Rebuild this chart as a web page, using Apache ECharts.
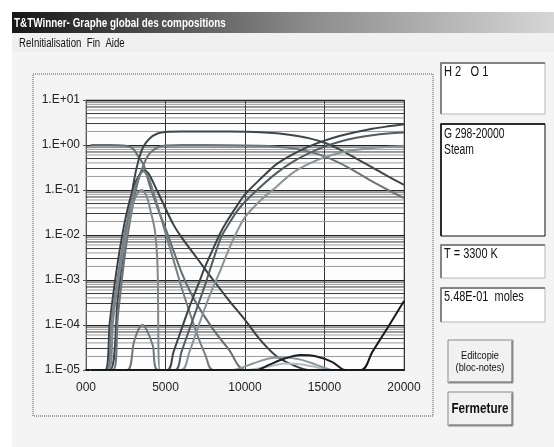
<!DOCTYPE html>
<html>
<head>
<meta charset="utf-8">
<script src="https://cdn.jsdelivr.net/npm/echarts@6/dist/echarts.min.js"></script>
<style>
html, body { margin: 0; padding: 0; background: #fff; }
#chart { width: 554px; height: 447px; }
</style>
</head>
<body>
<div id="chart"></div>
<script>
// tick labels
const xTickLabels = ['000', '5000', '10000', '15000', '20000'];
const yTickLabels = ['1.E-05', '1.E-04', '1.E-03', '1.E-02', '1.E-01', '1.E+00', '1.E+01'];

// compositions (moles) vs temperature (K), clamped at 1e-5
const h2o = [[298,1],[1500,1],[2000,0.99],[2500,0.96],[2800,0.9],[3000,0.8],[3300,0.548],[3600,0.38],[4000,0.13],[4500,0.04],[5000,0.014],[5500,0.0045],[6000,0.0015],[6500,6e-4],[7000,2.8e-4],[8000,8e-5],[9000,2.8e-5],[10000,1e-5],[20000,1e-5]];
const h = [[298,1e-5],[1500,1e-5],[2000,4e-4],[2500,0.01],[3000,0.15],[3300,0.45],[3600,0.9],[4000,1.4],[4500,1.8],[5000,1.95],[6000,2.0],[9000,1.99],[11000,1.93],[12000,1.82],[13000,1.65],[14000,1.42],[15000,1.12],[16000,0.78],[17000,0.5],[18000,0.32],[19000,0.2],[20000,0.13]];
const o = [[298,1e-5],[1700,1e-5],[2000,1.5e-4],[2500,5e-3],[3000,0.06],[3300,0.17],[3600,0.35],[4000,0.65],[4500,0.88],[5000,0.97],[6000,1.0],[9000,0.99],[11000,0.96],[12000,0.92],[13000,0.85],[14000,0.72],[15000,0.56],[16000,0.39],[17000,0.25],[18000,0.155],[19000,0.1],[20000,0.066]];
const oh = [[298,1e-5],[1200,1e-5],[1500,1.2e-4],[2000,2.5e-3],[2500,0.025],[3000,0.12],[3300,0.2],[3600,0.27],[3900,0.24],[4300,0.13],[4800,0.055],[5500,0.017],[6000,0.009],[7000,3e-3],[8000,1e-3],[9000,3.5e-4],[10000,1.3e-4],[11000,4.5e-5],[12000,2e-5],[13000,1.3e-5],[14000,1e-5],[20000,1e-5]];
const h2 = [[298,1e-5],[1300,1e-5],[1600,1.2e-4],[2000,1.2e-3],[2500,0.015],[3000,0.09],[3300,0.18],[3600,0.26],[3900,0.2],[4200,0.1],[4500,0.045],[5000,0.011],[5500,2.8e-3],[6000,7e-4],[6500,2e-4],[7000,6e-5],[7500,2.2e-5],[8000,1e-5],[20000,1e-5]];
const o2 = [[298,1e-5],[1400,1e-5],[1700,1.2e-4],[2000,8e-4],[2500,9e-3],[3000,0.055],[3300,0.09],[3500,0.1],[3800,0.075],[4100,0.03],[4340,0.012],[4500,2e-3],[4650,1e-5],[20000,1e-5]];
const ho2 = [[298,1e-5],[2580,1e-5],[3000,4e-5],[3300,8e-5],[3550,1e-4],[3800,8e-5],[4200,3.5e-5],[4530,1e-5],[20000,1e-5]];
const eMinus = [[298,1e-5],[5100,1e-5],[5500,2.5e-5],[6000,8e-5],[6500,2.5e-4],[7000,7e-4],[7500,2e-3],[8000,5e-3],[8500,0.012],[9000,0.024],[9500,0.045],[10000,0.08],[11000,0.18],[12000,0.38],[13000,0.62],[14000,0.92],[15000,1.25],[16000,1.6],[17000,1.95],[18000,2.3],[19000,2.6],[20000,2.9]];
const hPlus = [[298,1e-5],[5600,1e-5],[6000,2.5e-5],[6500,8e-5],[7000,2.5e-4],[7500,8e-4],[8000,2.8e-3],[8500,9e-3],[9000,0.018],[9500,0.034],[10000,0.055],[11000,0.12],[12000,0.24],[13000,0.42],[14000,0.65],[15000,0.92],[16000,1.2],[17000,1.45],[18000,1.65],[19000,1.8],[20000,1.9]];
const oPlus = [[298,1e-5],[6000,1e-5],[6500,2.5e-5],[7000,8e-5],[7500,2.5e-4],[8000,7e-4],[8500,1.8e-3],[9000,5e-3],[9500,0.012],[10000,0.025],[11000,0.06],[12000,0.12],[13000,0.24],[14000,0.38],[15000,0.53],[16000,0.67],[17000,0.78],[18000,0.86],[19000,0.91],[20000,0.95]];
const ionA = [[298,1e-5],[10700,1e-5],[11500,1.3e-5],[12500,1.8e-5],[13500,2.15e-5],[14500,2e-5],[15500,1.5e-5],[16300,1e-5],[20000,1e-5]];
const ionB = [[298,1e-5],[9200,1e-5],[10500,1.4e-5],[11500,1.8e-5],[12500,1.9e-5],[13500,1.7e-5],[14500,1.3e-5],[15500,1e-5],[20000,1e-5]];
const ionC = [[298,1e-5],[10000,1e-5],[11500,1.2e-5],[12500,1.4e-5],[13500,1.35e-5],[14500,1.15e-5],[15300,1e-5],[20000,1e-5]];
const oPlusPlus = [[298,1e-5],[17300,1e-5],[18000,2.5e-5],[19000,9e-5],[20000,3.4e-4]];

// minor log gridlines 2..9 per decade
const minorLines = [];
for (let e = -5; e < 1; e++) {
    for (let k = 2; k <= 9; k++) minorLines.push({k: k, v: k * Math.pow(10, e)});
}

const curves = [
    [h2o, '#646d71'], [h, '#3f474a'], [o, '#6c7579'], [oh, '#394144'],
    [h2, '#757e82'], [o2, '#7f888c'], [ho2, '#6f787c'],
    [eMinus, '#3c4447'], [hPlus, '#545c60'], [oPlus, '#8a9397'],
    [ionC, '#b3bbbe'], [ionB, '#8e979b'], [ionA, '#1c2022'], [oPlusPlus, '#15181a']
];

const font = '"Liberation Sans", Arial, sans-serif';

const chart = echarts.init(document.getElementById('chart'));

const series = minorLines.map(m => ({
    type: 'line', data: [[0, m.v], [20000, m.v]], showSymbol: false, silent: true, z: 1,
    lineStyle: {color: m.k % 2 ? '#3a3a3a' : '#9a9a9a', width: 1}
})).concat(curves.map(([data, color]) => ({
    type: 'line', data: data, showSymbol: false, smooth: 0.3, silent: true, z: 3,
    lineStyle: {color: color, width: 2}
})));

const sunken = (x, y, w, hh, dark) => [
    {type: 'rect', shape: {x: x, y: y, width: w, height: hh}, style: {fill: '#fff', stroke: dark ? '#111' : '#b8b8b8', lineWidth: 1}},
    {type: 'polyline', shape: {points: [[x, y + hh], [x, y], [x + w, y]]}, style: {stroke: dark ? '#111' : '#6a6a6a', lineWidth: 1.5, fill: null}}
];
const button = (x, y, w, hh) => [
    {type: 'rect', shape: {x: x, y: y, width: w, height: hh}, style: {fill: '#f1f1f1', stroke: '#8a8a8a', lineWidth: 1}},
    {type: 'polyline', shape: {points: [[x + 1, y + hh - 1], [x + w - 1, y + hh - 1], [x + w - 1, y + 1]]}, style: {stroke: '#555', lineWidth: 1, fill: null}}
];
// narrow text: regular font squeezed horizontally
const label = (x, y, text, fontSpec, sx, extra) => ({
    type: 'text', x: x, y: y, scaleX: sx,
    style: Object.assign({text: text, fill: '#111', font: fontSpec}, extra || {})
});

chart.setOption({
    animation: false,
    backgroundColor: '#f4f4f4',
    grid: {left: 86, right: 150, top: 100, bottom: 77, show: true, backgroundColor: '#fdfdfd', borderColor: '#8a8a8a', borderWidth: 1},
    xAxis: {
        type: 'value', min: 0, max: 20000, interval: 5000,
        axisLine: {show: true, onZero: false, lineStyle: {color: '#111', width: 2}},
        axisTick: {show: false},
        splitLine: {show: true, lineStyle: {color: '#333', width: 1}},
        axisLabel: {formatter: v => xTickLabels[Math.round(v / 5000)], fontFamily: font, fontSize: 12, color: '#222', margin: 12}
    },
    yAxis: {
        type: 'log', logBase: 10, min: 1e-5, max: 10, splitNumber: 6,
        axisLine: {show: true, lineStyle: {color: '#555'}},
        axisTick: {show: true, length: 3, lineStyle: {color: '#555'}},
        splitLine: {show: true, lineStyle: {color: '#222', width: 1}},
        axisLabel: {formatter: v => yTickLabels[Math.round(Math.log10(v)) + 5], fontFamily: font, fontSize: 12, color: '#222', margin: 6}
    },
    series: series,
    graphic: [
        {type: 'rect', shape: {x: 0, y: 0, width: 554, height: 12}, style: {fill: '#fff'}},
        {type: 'rect', shape: {x: 0, y: 0, width: 12, height: 447}, style: {fill: '#fff'}},
        {type: 'rect', shape: {x: 12, y: 12, width: 542, height: 21}, style: {
            fill: new echarts.graphic.LinearGradient(0, 0, 1, 0, [
                {offset: 0, color: '#161616'}, {offset: 0.55, color: '#8c8c8c'}, {offset: 1, color: '#d6d6d6'}
            ])
        }},
        label(14, 23, 'T&TWinner- Graphe global des compositions', 'bold 13px ' + font, 0.76, {fill: '#fff', textVerticalAlign: 'middle'}),
        {type: 'rect', shape: {x: 12, y: 33, width: 542, height: 19}, style: {fill: '#f0f0f0'}},
        label(19, 44, 'ReInitialisation  Fin  Aide', '12px ' + font, 0.8, {textVerticalAlign: 'middle'}),
        {type: 'rect', shape: {x: 33, y: 74, width: 400, height: 342}, style: {fill: null, stroke: '#555', lineWidth: 1, lineDash: [1, 1]}},
        ...sunken(441, 63, 104, 51, false),
        label(444, 64, 'H 2   O 1', '15px ' + font, 0.74),
        ...sunken(441, 124, 104, 112, true),
        label(444, 126, 'G 298-20000\nSteam', '14px ' + font, 0.74, {lineHeight: 16}),
        ...sunken(441, 245, 104, 33, false),
        label(444, 246, 'T = 3300 K', '15px ' + font, 0.73),
        ...sunken(441, 288, 104, 34, false),
        label(444, 289, '5.48E-01  moles', '15px ' + font, 0.73),
        ...button(448, 340, 65, 43),
        label(480, 362, 'Editcopie\n(bloc-notes)', '11px ' + font, 0.84, {align: 'center', verticalAlign: 'middle', lineHeight: 12}),
        ...button(448, 392, 65, 34),
        label(480, 409, 'Fermeture', 'bold 15px ' + font, 0.78, {align: 'center', verticalAlign: 'middle'})
    ]
});
</script>
</body>
</html>
